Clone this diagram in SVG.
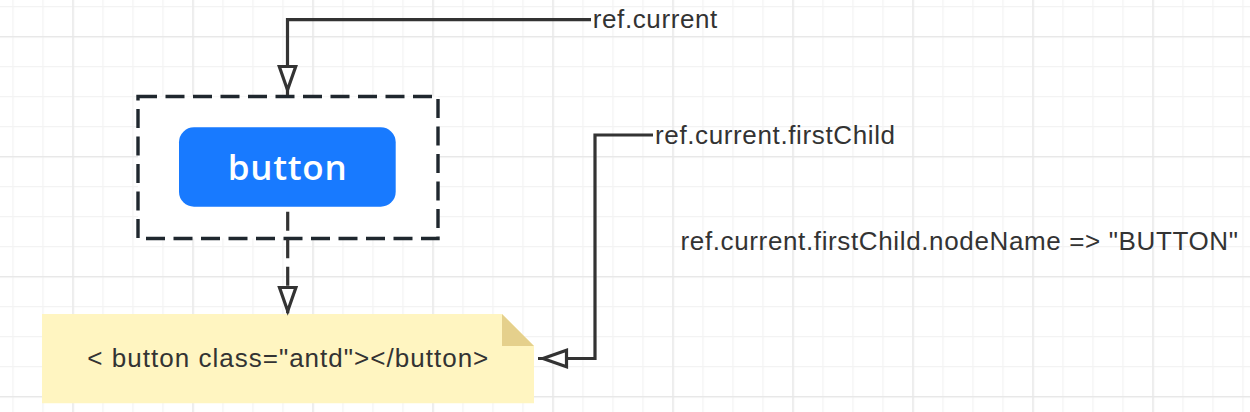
<svg xmlns="http://www.w3.org/2000/svg" width="1250" height="412" viewBox="0 0 1250 412">
  <style>
    .lbl { font-family: "Liberation Sans", Arial, sans-serif; font-size: 26px; fill: #333333; }
    .conn { fill: none; stroke: #333333; stroke-width: 3.2; }
    .dash { stroke-dasharray: 19 8.5; }
  </style>
  <defs>
    <pattern id="minor" patternUnits="userSpaceOnUse" x="12.4" y="6.1" width="30" height="30">
      <rect x="0" y="0" width="1.2" height="30" fill="#f2f2f2"/>
      <rect x="0" y="0" width="30" height="1.2" fill="#f2f2f2"/>
    </pattern>
    <pattern id="major" patternUnits="userSpaceOnUse" x="72.4" y="36.1" width="120" height="120">
      <rect x="0" y="0" width="1.3" height="120" fill="#e7e7e7"/>
      <rect x="0" y="0" width="120" height="1.3" fill="#e7e7e7"/>
    </pattern>
    <marker id="arr" markerUnits="userSpaceOnUse" markerWidth="40" markerHeight="30" viewBox="-36 -15 40 30" refX="0" refY="0" orient="auto" overflow="visible">
      <path d="M-5,0 L-28.5,-8.2 L-28.5,8.2 Z" fill="#ffffff" stroke="#333333" stroke-width="3.2" stroke-linejoin="miter"/>
    </marker>
  </defs>

  <g id="grid">
    <rect x="0" y="0" width="1250" height="412" fill="#ffffff"/>
    <rect x="0" y="0" width="1250" height="412" fill="url(#minor)"/>
    <rect x="0" y="0" width="1250" height="412" fill="url(#major)"/>
  </g>

  <g id="container">
    <rect x="138" y="96.5" width="300" height="142" fill="#ffffff" stroke="#1f272e" stroke-width="3.4" stroke-dasharray="19 8.5"/>
  </g>

  <g id="button">
    <rect x="179" y="127.3" width="216.7" height="79.4" rx="15" ry="15" fill="#187aff"/>
    <text x="287.2" y="180" text-anchor="middle" font-family="'Open Sans', 'Noto Sans', sans-serif" font-size="35" font-weight="600" fill="#ffffff" textLength="119" lengthAdjust="spacing">button</text>
  </g>

  <g id="note">
    <polygon points="42,314 502,314 534,346 534,403.3 42,403.3" fill="#fff5c1"/>
    <polygon points="502,314 502,346 534,346" fill="#e5d08c"/>
    <text class="lbl" x="87.3" y="366.7" textLength="401" lengthAdjust="spacing">&lt; button class="antd"&gt;&lt;/button&gt;</text>
  </g>

  <g id="label-current">
    <text class="lbl" x="592.7" y="28.3" textLength="124.6" lengthAdjust="spacing">ref.current</text>
  </g>

  <g id="label-firstChild">
    <text class="lbl" x="655" y="144" textLength="240" lengthAdjust="spacing">ref.current.firstChild</text>
  </g>

  <g id="label-nodeName">
    <text class="lbl" x="680.5" y="250" textLength="557.5" lengthAdjust="spacing">ref.current.firstChild.nodeName =&gt; "BUTTON"</text>
  </g>

  <g id="connectors">
    <path class="conn" d="M591,19.7 H287.5 V95" marker-end="url(#arr)"/>
    <path class="conn" d="M653,135 H595 V358.5 H538" marker-end="url(#arr)"/>
    <path class="conn dash" d="M287.7,211.7 V316" marker-end="url(#arr)"/>
  </g>
</svg>
